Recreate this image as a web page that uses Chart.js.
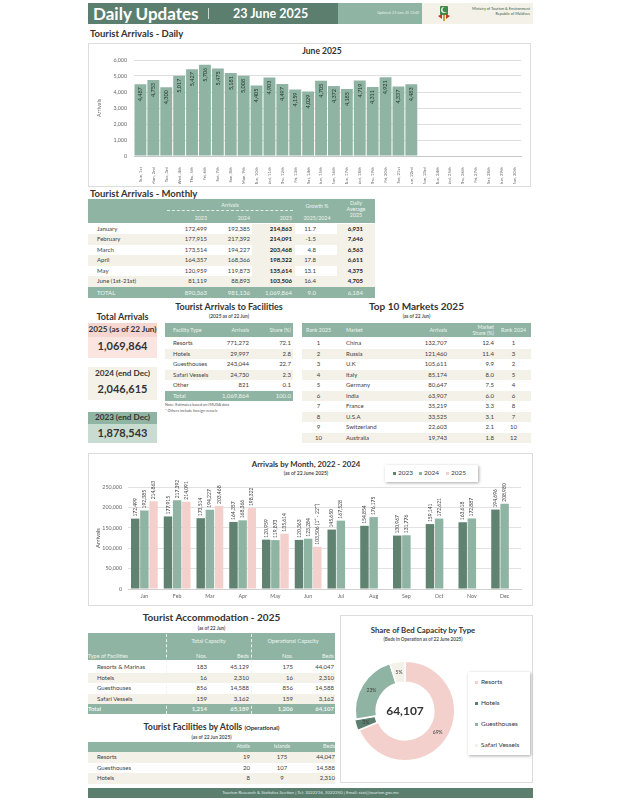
<!DOCTYPE html>
<html>
<head>
<meta charset="utf-8">
<script src="https://cdn.jsdelivr.net/npm/chart.js@4.4.1/dist/chart.umd.min.js"></script>
<style>
body{margin:0;background:#fff;font-family:Lato,'Open Sans',sans-serif;color:#404040}
#page{position:relative;width:618px;height:800px;overflow:hidden}
#page div{position:absolute;white-space:nowrap}
canvas{position:absolute}
.box{border:1px solid #dcdcdc;box-sizing:border-box}
</style>
</head>
<body>
<div id="page"></div>
<script>
// ---- data ----
const dayLabels = ['Sun, 1st','Mon, 2nd','Tue, 3rd','Wed, 4th','Thu, 5th','Fri, 6th','Sat, 7th','Sun, 8th','Mon, 9th','Tue, 10th',
  'Wed, 11th','Thu, 12th','Fri, 13th','Sat, 14th','Sun, 15th','Mon, 16th','Tue, 17th','Wed, 18th','Thu, 19th','Fri, 20th',
  'Sat, 21st','Sun, 22nd','Mon, 23rd','Tue, 24th','Wed, 25th','Thu, 26th','Fri, 27th','Sat, 28th','Sun, 29th','Mon, 30th'];
const dailyArrivals = [4487,4753,4300,5017,5427,5706,5475,5181,5008,4405,4903,4497,4159,4029,4705,4372,4185,4719,4311,4921,4337,4483];

const months = ['Jan','Feb','Mar','Apr','May','Jun','Jul','Aug','Sep','Oct','Nov','Dec'];
const arr2023 = [172499,177915,173514,164357,120959,120363,145650,154854,130967,159141,163618,194696];
const arr2024 = [192385,217392,194227,168366,119873,123284,167528,176175,131776,172621,172887,208980];
const arr2025 = [214863,214091,203468,198322,135614,103506,null,null,null,null,null,null];

const monthlyRows = [
  ['January','172,499','192,385','214,863','11.7','6,931'],
  ['February','177,915','217,392','214,091','-1.5','7,646'],
  ['March','173,514','194,227','203,468','4.8','6,563'],
  ['April','164,357','168,366','198,322','17.8','6,611'],
  ['May','120,959','119,873','135,614','13.1','4,375'],
  ['June (1st-21st)','81,119','88,893','103,506','16.4','4,705']];
const monthlyTotal = ['TOTAL','890,363','981,136','1,069,864','9.0','6,184'];

const facilityRows = [['Resorts','771,272','72.1'],['Hotels','29,997','2.8'],['Guesthouses','243,044','22.7'],
  ['Safari Vessels','24,730','2.3'],['Other','821','0.1']];
const facilityTotal = ['Total','1,069,864','100.0'];

const marketRows = [['1','China','132,707','12.4','1'],['2','Russia','121,460','11.4','3'],['3','U.K','105,611','9.9','2'],
  ['4','Italy','85,174','8.0','5'],['5','Germany','80,647','7.5','4'],['6','India','63,907','6.0','6'],
  ['7','France','35,219','3.3','8'],['8','U.S.A','33,525','3.1','7'],['9','Switzerland','22,603','2.1','10'],
  ['10','Australia','19,743','1.8','12']];

const accomRows = [['Resorts & Marinas','183','45,129','175','44,047'],['Hotels','16','2,310','16','2,310'],
  ['Guesthouses','856','14,588','856','14,588'],['Safari Vessels','159','3,162','159','3,162']];
const accomTotal = ['Total','1,214','65,189','1,206','64,107'];

const atollRows = [['Resorts','19','175','44,047'],['Guesthouses','20','107','14,588'],['Hotels','8','9','2,310']];

const bedTypes = ['Resorts','Hotels','Guesthouses','Safari Vessels'];
const bedsOperational = [44047,2310,14588,3162];
const bedPctLabels = ['69%','3%','23%','5%'];

// ---- colours ----
const darkGreen = '#5c7e6f';
const midGreen = '#8fb4a3';
const pink = '#f3d0cb';
const beige = '#f4f1e9';
const txt = '#404040';

const page = document.getElementById('page');
function addDiv(css, text) {
  const d = document.createElement('div');
  d.style.cssText = css;
  if (text !== undefined) d.innerHTML = text;
  page.appendChild(d);
  return d;
}

// draws rows of a table as positioned cells
function drawRows(x, top, rowH, cols, rows, bgFn, extra) {
  const totalW = cols.reduce((s, c) => s + c.w, 0);
  rows.forEach((r, i) => {
    const y = top + i * rowH;
    const bg = bgFn(i);
    if (bg) addDiv(`left:${x}px;top:${y}px;width:${totalW}px;height:${rowH}px;background:${bg}`);
    let cx = x;
    cols.forEach((c, j) => {
      addDiv(`left:${cx}px;top:${y}px;width:${c.w}px;height:${rowH}px;line-height:${rowH}px;text-align:${c.a};` +
        `padding:0 ${c.pr || 0}px 0 ${c.pl || 0}px;box-sizing:border-box;font-size:6px;color:${txt};${c.css || ''};${extra || ''}`, r[j]);
      cx += c.w;
    });
  });
}

// ---- header ----
addDiv(`left:88px;top:3px;width:250px;height:21px;background:${darkGreen}`);
addDiv(`left:93px;top:3px;height:21px;line-height:21px;font-size:17px;font-weight:bold;color:#fff`, 'Daily Updates');
addDiv(`left:208px;top:8px;width:1px;height:11px;background:rgba(255,255,255,0.7)`);
addDiv(`left:233px;top:3px;height:21px;line-height:21px;font-size:12.5px;font-weight:bold;color:#fff`, '23 June 2025');
addDiv(`left:338px;top:3px;width:84px;height:21px;background:${midGreen}`);
addDiv(`left:338px;top:3px;width:81px;height:21px;line-height:21px;text-align:right;font-size:3.5px;color:#e9f1ed`, 'Updated: 23 June 25 13:40');
addDiv(`left:422px;top:3px;width:111px;height:21px;background:${beige}`);
addDiv(`left:437px;top:4px;width:14px;height:18px`,
  '<svg width="14" height="18" viewBox="0 0 14 18"><rect x="3" y="2" width="8" height="9" rx="1" fill="#3f8a4a"/>' +
  '<circle cx="7" cy="6" r="3" fill="#f4f1e9"/><circle cx="8.2" cy="5.5" r="2.6" fill="#3f8a4a"/>' +
  '<path d="M1 12 L5 10 L5 15 Z" fill="#c0392b"/><path d="M13 12 L9 10 L9 15 Z" fill="#c0392b"/>' +
  '<rect x="6" y="11" width="2" height="6" fill="#c9a43a"/></svg>');
addDiv(`left:455px;top:6px;width:75px;text-align:right;font-size:3.8px;line-height:5px;color:#3c5a4c`,
  'Ministry of Tourism &amp; Environment<br>Republic of Maldives');

// ---- daily chart ----
addDiv(`left:90px;top:28px;font-size:9.5px;font-weight:bold;color:#333`, 'Tourist Arrivals - Daily');
addDiv(`left:88px;top:43px;width:443px;height:144px`).className = 'box';
addDiv(`left:88px;top:46px;width:468px;text-align:center;font-size:8.5px;font-weight:bold;color:#333`, 'June 2025');

// ---- monthly table ----
addDiv(`left:90px;top:188px;font-size:9.5px;font-weight:bold;color:#333`, 'Tourist Arrivals - Monthly');
addDiv(`left:88px;top:199px;width:287px;height:24px;background:${midGreen}`);
const hdr = 'font-size:5.3px;color:#eef4f0;text-align:center;line-height:6px';
addDiv(`left:165px;top:202px;width:130px;${hdr}`, 'Arrivals');
addDiv(`left:167px;top:210px;width:126px;border-top:1px dashed #e4eee8`);
addDiv(`left:165px;top:215px;width:42px;text-align:right;${hdr};text-align:right`, '2023');
addDiv(`left:209px;top:215px;width:41px;${hdr};text-align:right`, '2024');
addDiv(`left:252px;top:215px;width:40px;${hdr};text-align:right`, '2025');
addDiv(`left:297px;top:203px;width:40px;${hdr}`, 'Growth %');
addDiv(`left:297px;top:215px;width:40px;${hdr}`, '2025/2024');
addDiv(`left:337px;top:200px;width:38px;${hdr}`, 'Daily<br>Average<br>2025');
const mCols = [
  {w: 77, a: 'left', pl: 9},
  {w: 44, a: 'right', pr: 2},
  {w: 43, a: 'right', pr: 2},
  {w: 43, a: 'right', pr: 3, css: `background:${beige};font-weight:bold;color:#222`},
  {w: 42, a: 'right', pr: 21},
  {w: 38, a: 'right', pr: 12, css: `background:${beige};font-weight:bold;color:#222`}];
drawRows(88, 223.5, 10.5, mCols, monthlyRows, i => i % 2 ? beige : null);
drawRows(88, 287, 11, mCols.map(c => Object.assign({}, c, {css: `background:${midGreen}`})), [monthlyTotal],
  () => midGreen, 'color:#eef4f0');

// ---- total arrivals panel ----
addDiv(`left:88px;top:311px;width:69px;text-align:center;font-size:9px;font-weight:bold;color:#333`, 'Total Arrivals');
addDiv(`left:88px;top:323px;width:69px;height:14px;background:#f6d6d1`);
addDiv(`left:88px;top:337px;width:69px;height:21px;background:#fbe5e1`);
addDiv(`left:88px;top:324px;width:69px;text-align:center;font-size:8.2px;font-weight:bold;color:#333`, '2025 (as of 22 Jun)');
addDiv(`left:88px;top:339px;width:69px;text-align:center;font-size:11px;font-weight:bold;color:#333`, '1,069,864');
addDiv(`left:88px;top:367px;width:69px;height:33px;background:${beige}`);
addDiv(`left:88px;top:368px;width:69px;text-align:center;font-size:8.2px;font-weight:bold;color:#333`, '2024 (end Dec)');
addDiv(`left:88px;top:382px;width:69px;text-align:center;font-size:11px;font-weight:bold;color:#333`, '2,046,615');
addDiv(`left:88px;top:412px;width:69px;height:12px;background:${midGreen}`);
addDiv(`left:88px;top:424px;width:69px;height:19px;background:#c9dcd2`);
addDiv(`left:88px;top:412px;width:69px;text-align:center;font-size:8.2px;font-weight:bold;color:#333`, '2023 (end Dec)');
addDiv(`left:88px;top:426px;width:69px;text-align:center;font-size:11px;font-weight:bold;color:#333`, '1,878,543');

// ---- facilities table ----
addDiv(`left:165px;top:301px;width:128px;text-align:center;font-size:9px;font-weight:bold;color:#333`, 'Tourist Arrivals to Facilities');
addDiv(`left:165px;top:313px;width:128px;text-align:center;font-size:4.8px;font-weight:bold;color:#555`, '(2025 as of 22 Jun)');
addDiv(`left:165px;top:323px;width:128px;height:14px;background:${midGreen}`);
const fCols = [{w: 50, a: 'left', pl: 8}, {w: 37, a: 'right', pr: 3}, {w: 41, a: 'right', pr: 2}];
drawRows(165, 323, 14, fCols, [['Facility Type', 'Arrivals', 'Share (%)']], () => null, 'color:#eef4f0;font-size:5.3px');
drawRows(165, 338, 10.5, fCols, facilityRows, i => i % 2 ? beige : null);
drawRows(165, 391, 9.5, fCols, [facilityTotal], () => midGreen, 'color:#eef4f0');
addDiv(`left:165px;top:402px;font-size:3.8px;line-height:6px;color:#555`, 'Note: Estimates based on IMUGA data<br>* Others include foreign vessels');

// ---- top 10 markets ----
addDiv(`left:302px;top:300px;width:229px;text-align:center;font-size:10px;font-weight:bold;color:#333`, 'Top 10 Markets 2025');
addDiv(`left:302px;top:313px;width:229px;text-align:center;font-size:4.8px;font-weight:bold;color:#555`, '(as of 22 Jun)');
addDiv(`left:302px;top:323px;width:229px;height:14px;background:${midGreen}`);
const tCols = [{w: 33, a: 'center'}, {w: 60, a: 'left', pl: 11}, {w: 55, a: 'right', pr: 3}, {w: 46, a: 'right', pr: 2}, {w: 35, a: 'center'}];
drawRows(302, 323, 14, tCols, [['Rank 2025', 'Market', 'Arrivals', '', 'Rank 2024']], () => null, 'color:#eef4f0;font-size:5.3px');
addDiv(`left:450px;top:324px;width:44px;text-align:right;font-size:5.3px;line-height:6px;color:#eef4f0`, 'Market<br>Share (%)');
drawRows(302, 338, 10.55, tCols, marketRows, i => i % 2 ? beige : null);

// ---- monthly chart box ----
addDiv(`left:88px;top:453px;width:445px;height:153px`).className = 'box';
addDiv(`left:206px;top:459px;width:200px;text-align:center;font-size:7.8px;font-weight:bold;color:#333`, 'Arrivals by Month, 2022 - 2024');
addDiv(`left:206px;top:470px;width:200px;text-align:center;font-size:5px;font-weight:bold;color:#555`, '(as of 22 June 2025)');
addDiv(`left:385px;top:465px;width:93px;height:17px;background:#fff;box-shadow:1px 1px 3px rgba(0,0,0,0.35)`);
[[2023, '#5f8271', 393], [2024, midGreen, 419], [2025, pink, 446]].forEach(l => {
  addDiv(`left:${l[2]}px;top:472px;width:3px;height:3px;background:${l[1]}`);
  addDiv(`left:${l[2] + 5}px;top:468px;font-size:6.5px;line-height:10px;color:#404040`, String(l[0]));
});

// ---- accommodation table ----
addDiv(`left:88px;top:611px;width:247px;text-align:center;font-size:10px;font-weight:bold;color:#333`, 'Tourist Accommodation - 2025');
addDiv(`left:88px;top:625px;width:247px;text-align:center;font-size:4.8px;font-weight:bold;color:#555`, '(as of 22 Jun)');
addDiv(`left:88px;top:633px;width:247px;height:27px;background:${midGreen}`);
addDiv(`left:166px;top:638px;width:85px;text-align:center;font-size:5.5px;color:#eef4f0`, 'Total Capacity');
addDiv(`left:251px;top:638px;width:84px;text-align:center;font-size:5.5px;color:#eef4f0`, 'Operational Capacity');
const aCols = [{w: 78, a: 'left', pl: 9}, {w: 43, a: 'right', pr: 2}, {w: 42, a: 'right', pr: 2}, {w: 44, a: 'right', pr: 2}, {w: 40, a: 'right', pr: 1}];
drawRows(88, 652, 9, aCols.map((c, j) => j ? c : Object.assign({}, c, {pl: 0})), [['Type of Facilities', 'Nos.', 'Beds', 'Nos.', 'Beds']],
  () => null, 'color:#eef4f0;font-size:5.5px');
drawRows(88, 662, 10.5, aCols, accomRows, i => i % 2 ? beige : null);
drawRows(88, 704, 10, aCols.map((c, j) => j ? c : Object.assign({}, c, {pl: 0})), [accomTotal], () => midGreen, 'color:#eef4f0;font-weight:bold');
addDiv(`left:166px;top:634px;height:80px;border-left:1px dashed #eef4f0`);
addDiv(`left:251px;top:634px;height:80px;border-left:1px dashed #eef4f0`);

// ---- atolls table ----
addDiv(`left:88px;top:721px;width:247px;text-align:center;font-size:8.8px;font-weight:bold;color:#333`,
  'Tourist Facilities by Atolls <span style="font-size:6px">(Operational)</span>');
addDiv(`left:88px;top:734px;width:247px;text-align:center;font-size:4.8px;font-weight:bold;color:#555`, '(as of 22 Jun 2025)');
const lCols = [{w: 117, a: 'left', pl: 9}, {w: 46, a: 'right', pr: 1}, {w: 62, a: 'center'}, {w: 22, a: 'right', pr: 0}];
drawRows(88, 742, 9.5, lCols, [['', 'Atolls', 'Islands', 'Beds']], () => midGreen, 'color:#eef4f0;font-size:5.5px');
drawRows(88, 752, 10.5, lCols, atollRows, i => i % 2 ? null : beige);

// ---- doughnut box ----
addDiv(`left:340px;top:615px;width:193px;height:168px`).className = 'box';
addDiv(`left:340px;top:625px;width:166px;text-align:center;font-size:7.8px;font-weight:bold;color:#333`, 'Share of Bed Capacity by Type');
addDiv(`left:340px;top:636px;width:166px;text-align:center;font-size:4.6px;font-weight:bold;color:#555`, '(Beds in Operation as of 22 June 2025)');
addDiv(`left:468px;top:672px;width:62px;height:83px;background:#fff;box-shadow:1px 1px 3px rgba(0,0,0,0.35)`);
const legCols = [pink, darkGreen, midGreen, beige];
bedTypes.forEach((t, i) => {
  const y = 679 + i * 21;
  addDiv(`left:475px;top:${y + 2}px;width:3px;height:3px;background:${legCols[i]}`);
  addDiv(`left:481px;top:${y - 2}px;font-size:6.5px;line-height:10px;color:#333`, t);
});

// ---- footer ----
addDiv(`left:88px;top:788px;width:445px;height:10px;background:${darkGreen}`);
addDiv(`left:88px;top:788px;width:445px;height:10px;line-height:10px;text-align:center;font-size:4.4px;color:#dfe9e3`,
  'Tourism Research &amp; Statistics Section | Tel: 3022216, 3022250 | Email: stat@tourism.gov.mv');

// ---- canvases ----
function addCanvas(id, x, y, w, h) {
  const c = document.createElement('canvas');
  c.id = id; c.width = w; c.height = h;
  c.style.cssText = `left:${x}px;top:${y}px;width:${w}px;height:${h}px`;
  page.appendChild(c);
  return c;
}

Chart.defaults.font.family = 'Lato';
Chart.defaults.color = '#595959';

// labels inside daily bars, rotated
const dailyLabelPlugin = {
  id: 'dailyLabels',
  afterDatasetsDraw(chart) {
    const ctx = chart.ctx;
    chart.getDatasetMeta(0).data.forEach((bar, i) => {
      const v = dailyArrivals[i];
      if (v == null) return;
      ctx.save();
      ctx.translate(bar.x, bar.y + 3);
      ctx.rotate(-Math.PI / 2);
      ctx.font = '5.5px Lato';
      ctx.fillStyle = '#23392f';
      ctx.textAlign = 'right';
      ctx.textBaseline = 'middle';
      ctx.fillText(v.toLocaleString('en-US'), 0, 0);
      ctx.restore();
    });
  }
};

new Chart(addCanvas('daily', 88, 44, 443, 142), {
  type: 'bar',
  data: {
    labels: dayLabels,
    datasets: [{data: dailyArrivals, backgroundColor: midGreen, barPercentage: 0.92, categoryPercentage: 1}]
  },
  options: {
    responsive: false,
    animation: false,
    layout: {padding: {left: 4, top: 16, right: 10, bottom: 2}},
    plugins: {legend: {display: false}, tooltip: {enabled: false}},
    scales: {
      x: {
        grid: {display: false},
        border: {color: '#c8c8c8'},
        ticks: {font: {size: 4.3}, color: '#666', minRotation: 90, maxRotation: 90, autoSkip: false, padding: 3},
        afterFit(s) { s.height = 28; }
      },
      y: {
        min: 0, max: 6000,
        ticks: {stepSize: 1000, font: {size: 5.3}, color: '#666', padding: 7},
        grid: {color: '#dedede', drawTicks: false},
        border: {display: false},
        title: {display: true, text: 'Arrivals', font: {size: 5.5}, color: '#666'},
        afterFit(s) { s.width = 42; }
      }
    }
  },
  plugins: [dailyLabelPlugin]
});

// labels above monthly bars, rotated
const monthLabelPlugin = {
  id: 'monthLabels',
  afterDatasetsDraw(chart) {
    const ctx = chart.ctx;
    chart.data.datasets.forEach((ds, di) => {
      chart.getDatasetMeta(di).data.forEach((bar, i) => {
        const v = ds.data[i];
        if (v == null) return;
        let t = v.toLocaleString('en-US');
        if (di === 2 && i === 5) t += ' (1ˢᵗ - 22ⁿᵈ)';
        ctx.save();
        ctx.translate(bar.x, bar.y - 2);
        ctx.rotate(-Math.PI / 2);
        ctx.font = '5px Lato';
        ctx.fillStyle = '#404040';
        ctx.textAlign = 'left';
        ctx.textBaseline = 'middle';
        ctx.fillText(t, 0, 0);
        ctx.restore();
      });
    });
  }
};

new Chart(addCanvas('monthly', 88, 453, 445, 153), {
  type: 'bar',
  data: {
    labels: months,
    datasets: [
      {label: '2023', data: arr2023, backgroundColor: '#5f8271'},
      {label: '2024', data: arr2024, backgroundColor: midGreen},
      {label: '2025', data: arr2025, backgroundColor: pink}
    ]
  },
  options: {
    responsive: false,
    animation: false,
    layout: {padding: {left: 4, top: 34, right: 12, bottom: 2}},
    datasets: {bar: {barPercentage: 0.92, categoryPercentage: 0.84}},
    plugins: {legend: {display: false}, tooltip: {enabled: false}},
    scales: {
      x: {
        grid: {display: false, drawTicks: false},
        border: {color: '#d0d0d0'},
        ticks: {font: {size: 5.3}, color: '#666', padding: 4},
        afterFit(s) { s.height = 15; }
      },
      y: {
        min: 0, max: 250000,
        ticks: {stepSize: 50000, font: {size: 5.3}, color: '#666', padding: 6},
        grid: {color: '#e2e2e2', drawTicks: false},
        border: {display: false},
        title: {display: true, text: 'Arrivals', font: {size: 6}, color: '#444', padding: 2},
        afterFit(s) { s.width = 36; }
      }
    }
  },
  plugins: [monthLabelPlugin]
});

// doughnut slice labels and centre total
const donutPlugin = {
  id: 'donutText',
  afterDatasetsDraw(chart) {
    const ctx = chart.ctx;
    const meta = chart.getDatasetMeta(0);
    ctx.save();
    ctx.font = '5px Lato';
    ctx.fillStyle = '#404040';
    ctx.textAlign = 'center';
    ctx.textBaseline = 'middle';
    meta.data.forEach((arc, i) => {
      const p = arc.tooltipPosition();
      ctx.fillText(bedPctLabels[i], p.x, p.y);
    });
    const total = bedsOperational.reduce((a, b) => a + b, 0);
    ctx.font = 'bold 12px Lato';
    ctx.fillStyle = '#333';
    ctx.fillText(total.toLocaleString('en-US'), meta.data[0].x, meta.data[0].y);
    ctx.restore();
  }
};

new Chart(addCanvas('donut', 340, 655, 130, 112), {
  type: 'doughnut',
  data: {
    labels: bedTypes,
    datasets: [{data: bedsOperational, backgroundColor: legCols, borderColor: '#fff', borderWidth: 1.5, offset: [0, 3, 0, 0]}]
  },
  options: {
    responsive: false,
    animation: false,
    cutout: '58%',
    layout: {padding: 4},
    plugins: {legend: {display: false}, tooltip: {enabled: false}}
  },
  plugins: [donutPlugin]
});
</script>
</body>
</html>
